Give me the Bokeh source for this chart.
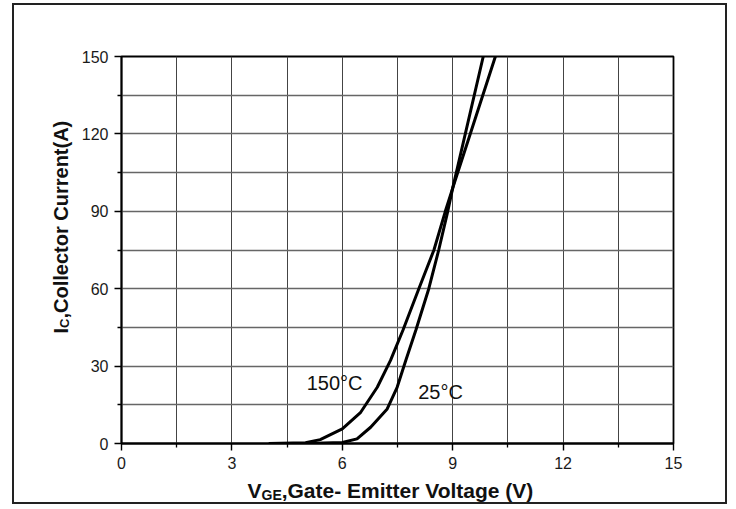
from math import pi
from bokeh.plotting import figure
from bokeh.models import Range1d, FixedTicker, Label
from bokeh.core.properties import value
from bokeh.embed import file_html
from bokeh.resources import INLINE

# ---- data ----
x_ticks = [0, 3, 6, 9, 12, 15]
x_minor = [1.5, 4.5, 7.5, 10.5, 13.5]
y_ticks = [0, 30, 60, 90, 120, 150]
y_minor = [15, 45, 75, 105, 135]

vge_150 = [4.0, 5.0, 5.4, 6.0, 6.5, 6.95, 7.31, 7.65, 8.08, 8.49, 8.8, 9.0, 10.16]
ic_150 = [0, 0.3, 1.5, 5.7, 12.1, 21.8, 32.2, 44, 60, 75, 90, 99, 150]
vge_25 = [5.0, 6.0, 6.4, 6.77, 7.22, 7.49, 7.72, 8.0, 8.35, 8.62, 8.85, 9.0, 9.83]
ic_25 = [0, 0.4, 1.8, 6.3, 13.4, 21.8, 32, 44, 60, 75, 89, 99, 150]

label_150 = "150°C"
label_25 = "25°C"
label_150_pos = (5.79, 23.3)
label_25_pos = (8.67, 19.8)

FONT = "Liberation Sans"

p = figure(width=715, height=501,
           x_range=Range1d(0, 15), y_range=Range1d(0, 150),
           output_backend="svg", toolbar_location=None,
           min_border_left=107, min_border_right=56,
           min_border_top=51, min_border_bottom=63)
p.styles = {"border": "2px solid #222", "margin-left": "12px", "margin-top": "3px"}

xt = FixedTicker(ticks=x_ticks, minor_ticks=x_minor)
yt = FixedTicker(ticks=y_ticks, minor_ticks=y_minor)
p.xaxis.ticker = xt
p.yaxis.ticker = yt
p.xgrid.ticker = xt
p.ygrid.ticker = yt

for ax in (p.xaxis, p.yaxis):
    ax.axis_line_color = "black"
    ax.axis_line_width = 1.8
    ax.major_tick_line_color = "black"
    ax.major_tick_line_width = 1.4
    ax.major_tick_out = 7
    ax.major_tick_in = 0
    ax.minor_tick_line_color = "black"
    ax.minor_tick_line_width = 1.3
    ax.minor_tick_out = 4
    ax.minor_tick_in = 0
    ax.major_label_text_font = FONT
    ax.major_label_text_font_size = "16px"
    ax.major_label_text_color = "#1a1a1a"
    ax.major_label_standoff = 6

p.xgrid.grid_line_color = "#444444"
p.xgrid.minor_grid_line_color = "#444444"
p.ygrid.grid_line_color = "#666666"
p.ygrid.minor_grid_line_color = "#666666"
p.xgrid.grid_line_width = 1
p.xgrid.minor_grid_line_width = 1
p.ygrid.grid_line_width = 1.3
p.ygrid.minor_grid_line_width = 1.3

p.outline_line_color = "black"
p.outline_line_width = 1.8
p.outline_line_alpha = 1

p.line(vge_150, ic_150, line_color="black", line_width=3)
p.line(vge_25, ic_25, line_color="black", line_width=3)

p.text(x=[label_150_pos[0]], y=[label_150_pos[1]], text=[label_150],
       text_font=value(FONT), text_font_size="20px", text_align="center",
       text_baseline="alphabetic", text_color="#111111")
p.text(x=[label_25_pos[0]], y=[label_25_pos[1]], text=[label_25],
       text_font=value(FONT), text_font_size="20px", text_align="center",
       text_baseline="alphabetic", text_color="#111111")

# ---- axis titles built from pieces (subscripts), placed in data units ----
# (added to side panels so they are not clipped to the frame; the side chosen
#  only decides where the panel space is reserved)
XS = 552 / 15.0   # px per volt
YS = 387 / 150.0  # px per amp

def lab(text, dx_px, dy_px, size, side, angle=0):
    # dx_px, dy_px: offsets in px from the frame's bottom-left (x right, y up)
    p.add_layout(Label(x=dx_px / XS, y=dy_px / YS, text=text,
                       text_font=FONT, text_font_size=size, text_font_style="bold",
                       text_color="#111111", text_align="left",
                       text_baseline="alphabetic", angle=angle), side)

x0 = 247 - 121
lab("V", x0, -(490 - 443), "21px", "right")
lab("GE", x0 + 14, -(494 - 443), "14px", "right")
lab(",Gate- Emitter Voltage (V)", x0 + 34.2, -(490 - 443), "21px", "below")

yx = 60 - 121
y0 = 443 - 333
lab("I", yx, y0, "20px", "left", pi / 2)
lab("C", yx + 4, y0 + 5.6, "13px", "left", pi / 2)
lab(",Collector Current(A)", yx, y0 + 15, "20px", "left", pi / 2)

open("out.html", "w").write(file_html(p, INLINE))
